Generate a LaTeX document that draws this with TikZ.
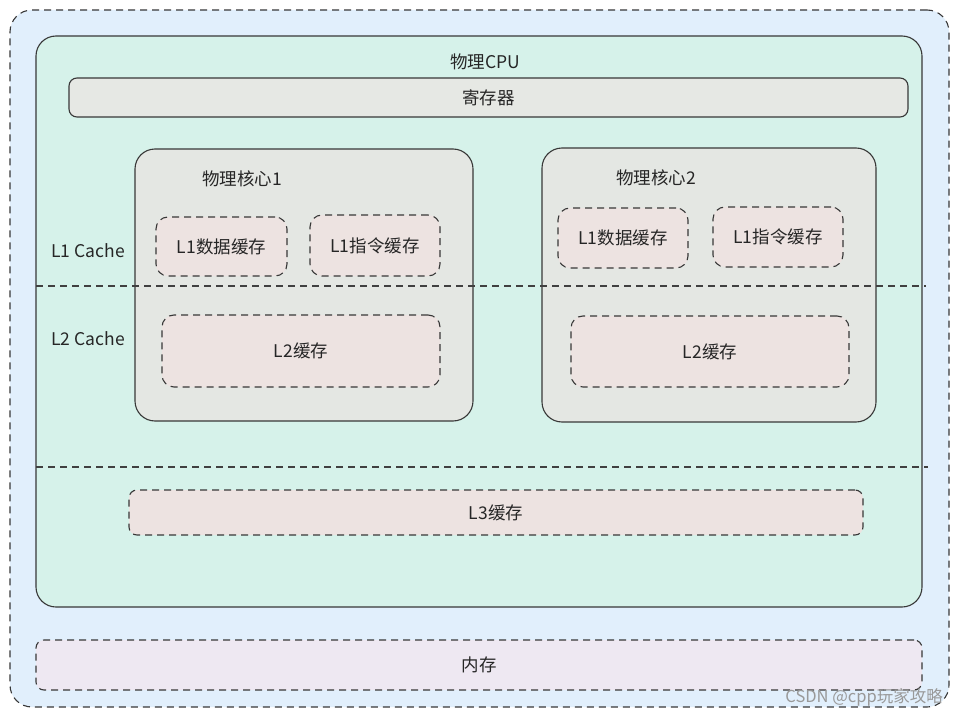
\documentclass[tikz,border=0pt]{standalone}
\usepackage{fontspec}
\setmainfont{Noto Sans CJK SC}
\begin{document}
\begin{tikzpicture}[x=1pt,y=-1pt,
  every node/.style={font=\fontsize{17.5}{20}\selectfont, text=black!85},
  boxbase/.style={inner sep=0pt, outer sep=0pt, line width=1.1pt, draw=black!78},
  solidbox/.style={boxbase, rounded corners=20pt},
  dashbox/.style={boxbase, rounded corners=12pt, dash pattern=on 7pt off 5pt},
  dline/.style={line width=1.1pt, draw=black!75, dash pattern=on 7pt off 5pt},
  lbl/.style={inner sep=1pt}
]
\definecolor{outerfill}{HTML}{E1EFFC}
\definecolor{cpufill}{HTML}{D6F2EA}
\definecolor{regfill}{HTML}{E6E8E4}
\definecolor{corefill}{HTML}{E4E7E3}
\definecolor{cachefill}{HTML}{EDE3E1}
\definecolor{memfill}{HTML}{EEE8F2}
\useasboundingbox (0,0) rectangle (959,717);
\fill[white] (0,0) rectangle (959,717);

\node[dashbox, rounded corners=22pt, fill=outerfill, minimum width=939, minimum height=697] (outer) at (479.5,358.5) {};
\node[solidbox, fill=cpufill, minimum width=886, minimum height=571] (cpu) at (479,321.5) {};
\node[lbl] (cputxt) at (485,62) {物理CPU};
\node[solidbox, rounded corners=8pt, fill=regfill, minimum width=839, minimum height=39] (reg) at (488.5,97.5) {寄存器};

\node[solidbox, fill=corefill, minimum width=338, minimum height=272] (core1) at (304,285) {};
\node[lbl] (core1txt) at (242,179) {物理核心1};
\node[solidbox, fill=corefill, minimum width=334, minimum height=274] (core2) at (709,285) {};
\node[lbl] (core2txt) at (656,178) {物理核心2};

\node[dashbox, fill=cachefill, minimum width=131, minimum height=59] (l1d1) at (221.5,246.5) {L1数据缓存};
\node[dashbox, fill=cachefill, minimum width=130, minimum height=61] (l1i1) at (375,245.5) {L1指令缓存};
\node[dashbox, fill=cachefill, minimum width=278, minimum height=72] (l21) at (301,351) {L2缓存};

\node[dashbox, fill=cachefill, minimum width=130, minimum height=60] (l1d2) at (623,238) {L1数据缓存};
\node[dashbox, fill=cachefill, minimum width=130, minimum height=60] (l1i2) at (778,237) {L1指令缓存};
\node[dashbox, fill=cachefill, minimum width=278, minimum height=71] (l22) at (710,351.5) {L2缓存};

\coordinate (d1a) at (36,286);
\coordinate (d1b) at (926,286);
\coordinate (d2a) at (36,467);
\coordinate (d2b) at (928,467);
\draw[dline] (d1a) -- (d1b);
\draw[dline] (d2a) -- (d2b);

\node[lbl] (l1lab) at (88,251) {L1 Cache};
\node[lbl] (l2lab) at (88,339) {L2 Cache};

\node[dashbox, rounded corners=8pt, fill=cachefill, minimum width=734, minimum height=45] (l3) at (496,512.5) {L3缓存};
\node[dashbox, rounded corners=8pt, fill=memfill, minimum width=886, minimum height=50] (mem) at (479,665) {内存};

\node[lbl, text=black!40, anchor=east, font=\fontsize{16.5}{19}\selectfont] (wm) at (944,697) {CSDN @cpp玩家攻略};
\end{tikzpicture}
\end{document}
